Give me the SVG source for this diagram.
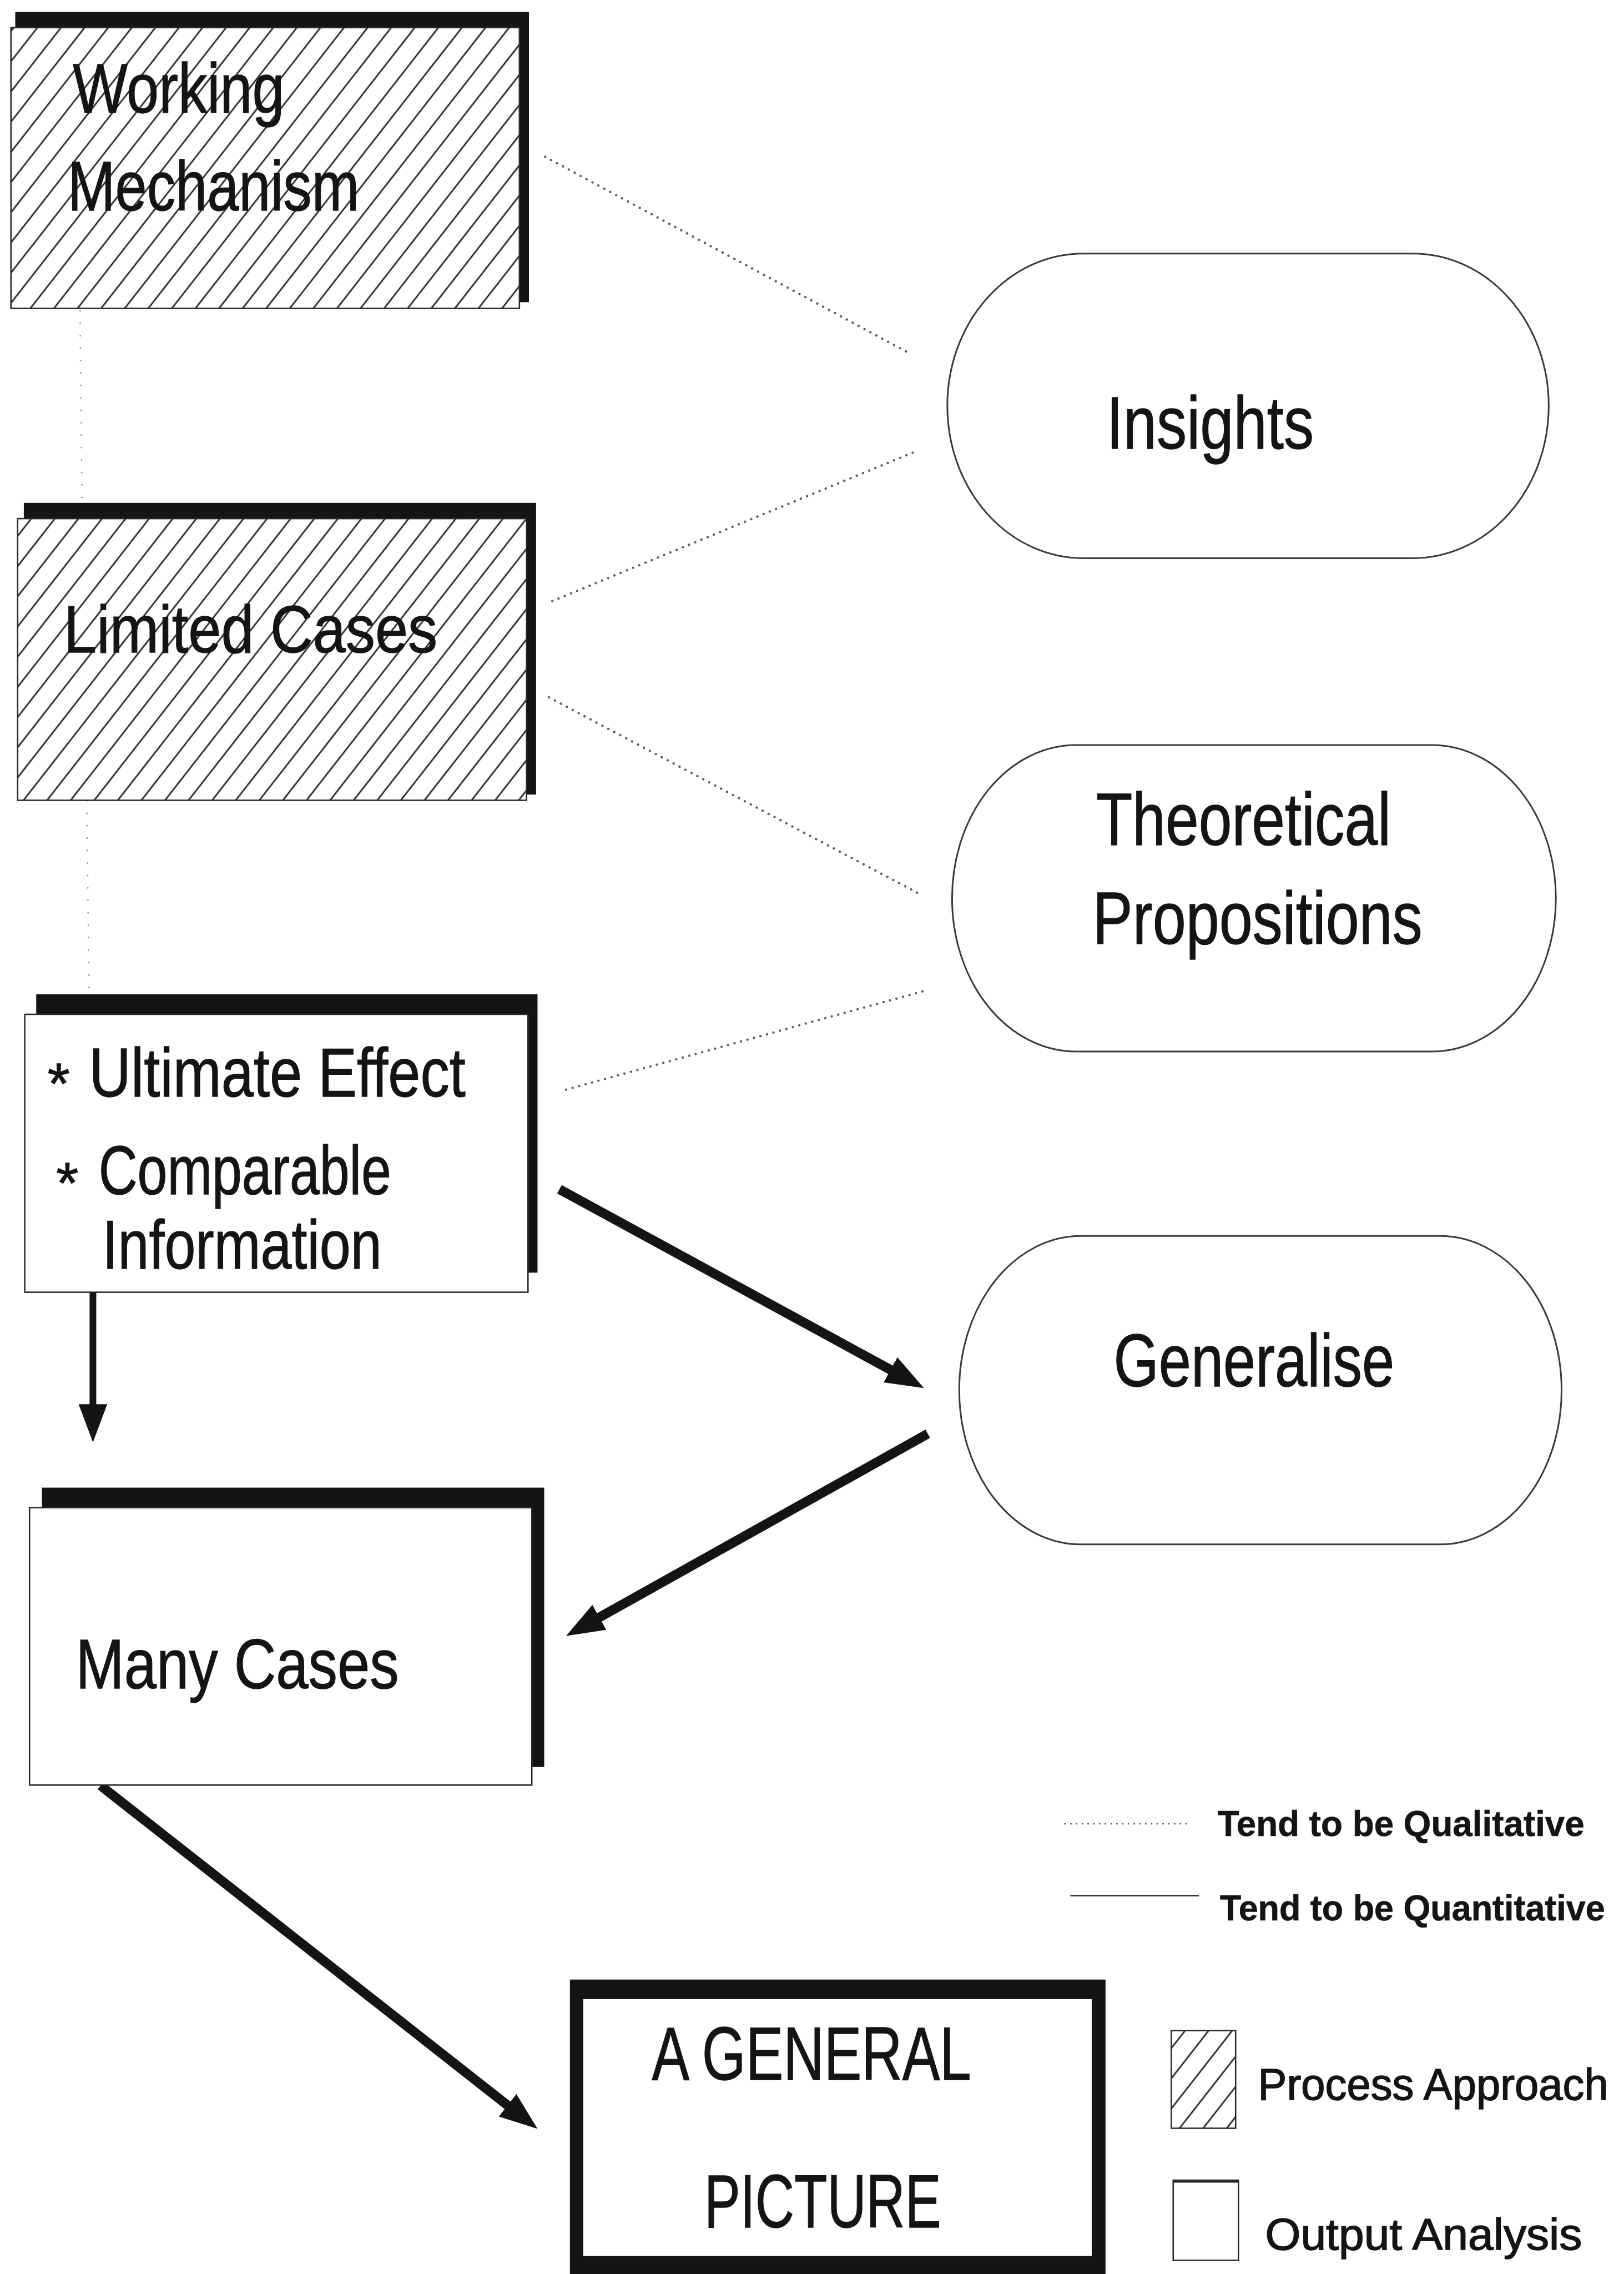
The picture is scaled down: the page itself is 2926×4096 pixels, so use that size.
<svg xmlns="http://www.w3.org/2000/svg" width="2926" height="4096" viewBox="0 0 2926 4096">
  <style>
    .lbl { font-family: "Liberation Sans", Arial, sans-serif; fill: #141414; stroke: #141414; stroke-width: 1.5; }
    .big { font-size: 147px; }
    .ell { font-size: 155px; }
    .leg { font-size: 75px; font-weight: bold; stroke-width: 0.8; }
    .key { font-size: 92px; stroke-width: 1.8; }
    .box { stroke: #2a2a2a; stroke-width: 3; }
    .shadow { fill: #141414; }
    .oval { fill: #ffffff; stroke: #3a3a3a; stroke-width: 3.5; }
    .dot { fill: none; stroke: #5e5e5e; stroke-width: 5; stroke-linecap: round; stroke-dasharray: 0.1 14; }
    .vdot { fill: none; stroke: #9a9a9a; stroke-width: 3.5; stroke-linecap: round; stroke-dasharray: 0.1 26; }
    .thick { fill: none; stroke: #141414; stroke-width: 20; }
  </style>
  <defs>
    <pattern id="hatch" patternUnits="userSpaceOnUse" width="39" height="39" patternTransform="rotate(38)">
      <rect width="39" height="39" fill="#ffffff"/>
      <line x1="19.5" y1="-4" x2="19.5" y2="43" stroke="#1e1e1e" stroke-width="3.2"/>
    </pattern>
    <marker id="head" markerUnits="userSpaceOnUse" viewBox="0 0 80 60" markerWidth="80" markerHeight="60" refX="10" refY="30" orient="auto">
      <path d="M0,0 L80,30 L0,60 z" fill="#141414"/>
    </marker>
  </defs>

  <rect width="2926" height="4096" fill="#ffffff"/>

  <g transform="scale(0.858568)">

    <!-- connectors -->
    <g id="connectors">
      <line class="dot" x1="1144" y1="329" x2="1910" y2="742"/>
      <line class="dot" x1="1159" y1="1261" x2="1917" y2="949"/>
      <line class="dot" x1="1152" y1="1463" x2="1925" y2="1873"/>
      <line class="dot" x1="1188" y1="2286" x2="1939" y2="2079"/>
      <line class="vdot" x1="168" y1="652" x2="172" y2="1055"/>
      <line class="vdot" x1="182" y1="1680" x2="187" y2="2086"/>

      <line class="thick" x1="1174" y1="2495" x2="1877.5" y2="2878.5" marker-end="url(#head)"/>
      <line class="thick" x1="195" y1="2711" x2="195" y2="2956" style="stroke-width:14" marker-end="url(#head)"/>
      <line class="thick" x1="1947" y1="3008" x2="1249" y2="3398" marker-end="url(#head)"/>
      <line class="thick" x1="211" y1="3746" x2="1073" y2="4423" marker-end="url(#head)"/>
    </g>

    <!-- process-approach boxes (hatched) -->
    <g id="working-mechanism">
      <rect class="shadow" x="32" y="25" width="1078" height="609"/>
      <rect class="box" x="23" y="58" width="1067" height="589" fill="url(#hatch)"/>
      <text class="lbl big" x="153" y="237" textLength="444" lengthAdjust="spacingAndGlyphs">Working</text>
      <text class="lbl big" x="142" y="442" textLength="612" lengthAdjust="spacingAndGlyphs">Mechanism</text>
    </g>

    <g id="limited-cases">
      <rect class="shadow" x="50" y="1055" width="1075" height="612"/>
      <rect class="box" x="37" y="1088" width="1068" height="591" fill="url(#hatch)"/>
      <text class="lbl" x="134" y="1368" font-size="140" textLength="784" lengthAdjust="spacingAndGlyphs">Limited Cases</text>
    </g>

    <!-- output-analysis boxes -->
    <g id="ultimate-effect">
      <rect class="shadow" x="76" y="2086" width="1052" height="584"/>
      <rect class="box" x="52" y="2128" width="1056" height="583" fill="#ffffff"/>
      <text class="lbl" x="100" y="2315" font-size="120">*</text>
      <text class="lbl" x="187" y="2300" font-size="144" textLength="790" lengthAdjust="spacingAndGlyphs">Ultimate Effect</text>
      <text class="lbl" x="118" y="2524" font-size="120">*</text>
      <text class="lbl" x="207" y="2505" font-size="144" textLength="614" lengthAdjust="spacingAndGlyphs">Comparable</text>
      <text class="lbl" x="215" y="2662" font-size="144" textLength="586" lengthAdjust="spacingAndGlyphs">Information</text>
    </g>

    <g id="many-cases">
      <rect class="shadow" x="88" y="3121" width="1054" height="586"/>
      <rect class="box" x="62" y="3163" width="1054" height="582" fill="#ffffff"/>
      <text class="lbl big" x="159" y="3542" textLength="678" lengthAdjust="spacingAndGlyphs">Many Cases</text>
    </g>

    <!-- rounded terminals -->
    <g id="insights">
      <rect class="oval" x="1988" y="532" width="1262" height="639" rx="285" ry="319"/>
      <text class="lbl ell" x="2322" y="941" textLength="435" lengthAdjust="spacingAndGlyphs">Insights</text>
    </g>

    <g id="theoretical-propositions">
      <rect class="oval" x="1998" y="1563" width="1267" height="643" rx="260" ry="321"/>
      <text class="lbl ell" x="2300" y="1773" textLength="619" lengthAdjust="spacingAndGlyphs">Theoretical</text>
      <text class="lbl ell" x="2293" y="1980" textLength="692" lengthAdjust="spacingAndGlyphs">Propositions</text>
    </g>

    <g id="generalise">
      <rect class="oval" x="2013" y="2593" width="1264" height="647" rx="255" ry="323"/>
      <text class="lbl ell" x="2337" y="2908" textLength="589" lengthAdjust="spacingAndGlyphs">Generalise</text>
    </g>

    <!-- final result -->
    <g id="general-picture">
      <rect x="1196" y="4153" width="1124" height="618" fill="#141414"/>
      <rect x="1224" y="4194" width="1067" height="539" fill="#ffffff"/>
      <text class="lbl" x="1368" y="4363" font-size="158" textLength="670" lengthAdjust="spacingAndGlyphs">A GENERAL</text>
      <text class="lbl" x="1478" y="4673" font-size="158" textLength="497" lengthAdjust="spacingAndGlyphs">PICTURE</text>
    </g>

    <!-- key -->
    <g id="legend">
      <line class="dot" x1="2235" y1="3826" x2="2493" y2="3826" style="stroke-width:3.5;stroke-dasharray:0.1 12"/>
      <text class="lbl leg" x="2555" y="3852" textLength="770" lengthAdjust="spacingAndGlyphs">Tend to be Qualitative</text>
      <line x1="2246" y1="3977" x2="2516" y2="3977" stroke="#2a2a2a" stroke-width="3"/>
      <text class="lbl leg" x="2560" y="4029" textLength="808" lengthAdjust="spacingAndGlyphs">Tend to be Quantitative</text>

      <rect class="box" x="2458" y="4260" width="135" height="205" fill="url(#hatch)"/>
      <text class="lbl key" x="2640" y="4405" textLength="735" lengthAdjust="spacingAndGlyphs">Process Approach</text>

      <rect class="box" x="2462" y="4574" width="137" height="168" fill="#ffffff"/>
      <line x1="2462" y1="4576" x2="2599" y2="4576" stroke="#2a2a2a" stroke-width="6"/>
      <text class="lbl key" x="2655" y="4720" font-size="98" textLength="665" lengthAdjust="spacingAndGlyphs">Output Analysis</text>
    </g>
  </g>
</svg>
